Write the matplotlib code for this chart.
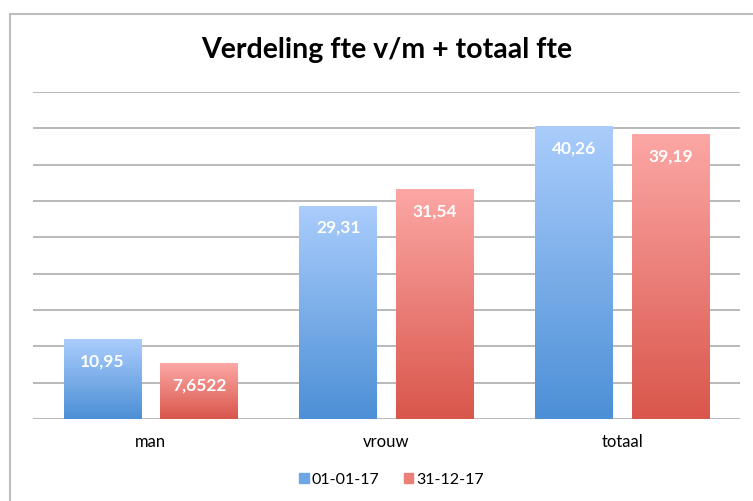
import numpy as np
import matplotlib.pyplot as plt
from matplotlib.colors import LinearSegmentedColormap
from matplotlib.patches import Rectangle

categories = ['man', 'vrouw', 'totaal']
fte_begin = [10.95, 29.31, 40.26]
fte_eind = [7.6522, 31.54, 39.19]
labels_begin = ['10,95', '29,31', '40,26']
labels_eind = ['7,6522', '31,54', '39,19']
series_names = ['01-01-17', '31-12-17']

plt.rcParams['font.family'] = ['Lato', 'DejaVu Sans']

fig = plt.figure(figsize=(7.53, 5.01), dpi=100)
ax = fig.add_axes([33 / 753, 82 / 501, 707 / 753, 327 / 501])

# rand rond de grafiek
fig.patches.append(Rectangle((10 / 753, -0.01), 1.2, (501 - 14) / 501 + 0.01,
                             transform=fig.transFigure, fill=False,
                             edgecolor='#bdbdbd', lw=1.5))

x = np.arange(len(categories))
w = 0.33
off = 0.205

blue = LinearSegmentedColormap.from_list('b', ['#4c8fd6', '#aacdfc'])
red = LinearSegmentedColormap.from_list('r', ['#d9564b', '#fca7a5'])

bars1 = ax.bar(x - off, fte_begin, w, color='none', zorder=3)
bars2 = ax.bar(x + off, fte_eind, w, color='none', zorder=3)

grad = np.linspace(0, 1, 256).reshape(-1, 1)
for bars, cmap, labels in [(bars1, blue, labels_begin), (bars2, red, labels_eind)]:
    for b, lab in zip(bars, labels):
        x0, y0 = b.get_x(), b.get_y()
        bw, bh = b.get_width(), b.get_height()
        ax.imshow(grad, cmap=cmap, origin='lower', aspect='auto',
                  extent=[x0, x0 + bw, y0, y0 + bh], zorder=3)
        ax.text(x0 + bw / 2, bh - 3.0, lab, ha='center', va='center',
                color='white', fontsize=12.5, fontweight='bold', zorder=4)

ax.set_xlim(-0.5, 2.5)
ax.set_ylim(0, 45)
ax.set_yticks(np.arange(0, 46, 5))
ax.yaxis.grid(True, color='#b3b3b3', lw=1.3, zorder=0)
ax.tick_params(axis='y', length=0, labelleft=False)
ax.tick_params(axis='x', length=0, labelsize=12, pad=11)
ax.set_xticks(x)
ax.set_xticklabels(categories)
for s in ax.spines.values():
    s.set_visible(False)

fig.text(0.513, 0.9, 'Verdeling fte v/m + totaal fte', ha='center', va='center',
         fontsize=20.5, fontweight='bold')

handles = [Rectangle((0, 0), 1, 1, color='#6fa6e6'),
           Rectangle((0, 0), 1, 1, color='#ec7f78')]
fig.legend(handles, series_names, loc='center', bbox_to_anchor=(0.52, 0.042),
           ncol=2, frameon=False, fontsize=11.5, handlelength=0.6, handleheight=0.6,
           handletextpad=0.2, columnspacing=1.5)

fig.savefig('out.png', dpi=100)
